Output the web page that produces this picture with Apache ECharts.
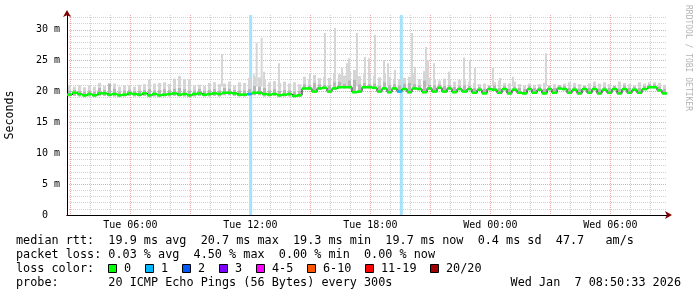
<!DOCTYPE html>
<html><head><meta charset="utf-8">
<script src="https://cdn.jsdelivr.net/npm/echarts@6/dist/echarts.min.js"></script>
<style>html,body{margin:0;padding:0;background:#fff}#c{width:697px;height:297px}</style>
</head><body><div id="c"></div>
<script>
// time is in minutes after Tue 00:00; slots of 15 minutes starting at 02:50
const SLOT_START = 170;
const SLOT_MINUTES = 15;
const X_MIN = 170, X_MAX = 1970;
const Y_MAX = 32.4;

const median = [
19.5,19.8,19.6,19.4,19.6,19.4,19.7,19.7,19.5,19.6,19.4,19.5,19.7,19.6,19.5,19.7,19.4,19.6,19.4,19.5,
19.6,19.7,19.5,19.6,19.4,19.6,19.7,19.5,19.6,19.7,19.6,19.8,19.8,19.7,
19.5,19.5,19.6,19.8,19.8,19.6,19.5,19.6,19.4,19.5,19.6,19.3,19.4,20.5,
20.5,20.0,20.5,20.6,20.0,20.5,20.7,20.7,20.7,19.9,20.0,20.7,20.7,20.6,
20.0,20.5,19.9,20.5,20.0,20.4,19.9,20.5,20.4,19.9,20.5,20.0,20.6,20.0,20.5,19.9,20.4,20.0,
20.4,19.8,20.3,19.7,20.4,20.3,19.8,20.4,19.7,20.3,19.8,19.7,20.4,19.8,20.3,19.7,20.4,19.8,20.5,20.4,
19.8,20.3,19.7,20.4,19.8,20.4,19.7,20.3,19.8,20.4,19.7,20.4,19.8,20.3,19.8,20.4,20.7,20.7,20.2,19.7
];
const smokeLo = [
19.2,19.3,19.2,19.1,19.2,19.1,19.3,19.3,19.2,19.2,19.1,19.2,19.3,19.2,19.2,19.3,19.1,19.2,19.1,19.2,
19.2,19.3,19.2,19.2,19.1,19.2,19.3,19.2,19.2,19.3,19.2,19.4,19.4,19.3,
19.2,19.2,19.3,19.4,19.4,19.2,19.2,19.3,19.1,19.2,19.2,19.0,19.1,20.3,
20.3,19.8,20.3,20.4,19.8,20.3,20.5,20.5,20.5,19.7,19.8,20.5,20.5,20.4,
19.8,20.3,19.7,20.3,19.8,20.2,19.7,20.3,20.2,19.7,20.3,19.8,20.4,19.8,20.3,19.7,20.2,19.8,
20.2,19.6,20.1,19.5,20.2,20.1,19.6,20.2,19.5,20.1,19.6,19.5,20.2,19.6,20.1,19.5,20.2,19.6,20.3,20.2,
19.6,20.1,19.5,20.2,19.6,20.2,19.5,20.1,19.6,20.2,19.5,20.2,19.6,20.1,19.6,20.2,20.5,20.5,20.0,19.5
];
const smokeMid = [
20.2,20.3,20.1,20.0,20.2,20.0,20.6,20.3,21.3,20.5,20.0,20.2,20.3,20.1,20.2,20.3,20.4,20.2,20.3,20.4,
20.3,20.5,20.6,20.4,20.2,20.2,20.4,20.1,20.3,20.4,20.2,20.6,20.5,20.3,
20.2,20.2,20.4,20.9,20.8,20.6,20.2,20.4,20.1,20.3,20.2,20.0,20.1,21.2,
21.0,21.4,21.2,21.1,21.0,21.5,21.6,21.3,21.8,21.9,21.2,21.4,21.2,21.3,
20.9,21.5,21.0,21.2,21.0,21.3,21.4,21.2,21.0,21.8,21.1,21.0,21.2,20.9,21.0,20.8,20.9,21.0,
20.9,20.6,20.8,20.5,20.9,21.0,20.6,20.9,20.5,20.8,20.6,20.4,20.9,20.6,20.8,20.5,20.9,20.6,21.0,20.9,
20.6,20.8,20.5,20.9,20.6,20.9,20.5,20.8,20.6,20.9,20.5,21.0,20.6,20.8,20.6,20.9,21.2,21.2,20.8,20.5
];
const smokeHi = [
21.0,20.8,21.0,20.7,21.0,20.8,21.4,20.9,21.3,21.3,20.8,21.0,21.0,20.8,21.1,21.2,21.9,21.3,21.4,21.5,
21.2,22.1,22.5,22.0,22.0,21.0,21.1,20.9,21.4,21.5,21.2,21.3,21.6,21.0,
21.5,21.4,22.2,22.4,22.3,22.0,21.5,21.7,21.4,21.6,21.3,21.5,21.2,22.4,
22.0,22.7,22.2,22.4,22.2,23.0,22.8,22.6,23.2,23.5,22.5,23.0,22.8,22.6,
22.3,22.9,22.4,22.1,22.0,22.2,22.4,22.8,22.0,23.3,22.2,22.0,21.8,22.1,21.9,21.6,21.9,21.8,
21.6,21.4,21.2,21.3,21.1,21.5,21.8,21.4,21.3,21.6,21.2,21.0,21.3,21.1,21.2,21.4,21.0,21.2,21.1,21.3,
21.5,21.4,21.2,21.0,21.3,21.6,21.3,21.5,21.2,21.0,21.6,21.4,21.2,21.0,21.5,21.3,21.5,21.5,21.4,21.1
];
// narrow tall smoke spikes: [minute, max rtt ms]
const spikes = [
[635,26.1],[731,22.8],[739,27.9],[754,28.7],[761,23.2],[806,24.6],[899,23.0],[944,29.5],[974,30.3],
[995,23.8],[1010,24.6],[1016,25.4],[1040,29.5],[1064,25.6],[1076,25.4],[1094,29.2],[1121,25.1],
[1133,24.6],[1154,23.5],[1205,29.5],[1214,24.0],[1247,27.2],[1253,25.0],[1271,24.6],[1316,23.2],
[1361,25.5],[1379,25.1],[1394,23.8],[1448,23.8],[1469,22.2],[1508,22.4],[1607,26.2]
];
// packet loss events: [minute, lost pings of 20]
const lossEvents = [[721,1],[1173,1]];

const xTickMinutes = [360,720,1080,1440,1800];
const xTickLabels = ['Tue 06:00','Tue 12:00','Tue 18:00','Wed 00:00','Wed 06:00'];
const yTickValues = [0,5,10,15,20,25,30];
const yTickLabels = ['0  ','5 m','10 m','15 m','20 m','25 m','30 m'];

const lossColors = ['#00ff00','#00b8ff','#0059ff','#7e00ff','#ff00ff','#ff5500','#ff0000','#a10000'];
const lossLabels = ['0','1','2','3','4-5','6-10','11-19','20/20'];

const statLine1 = 'median rtt:  19.9 ms avg  20.7 ms max  19.3 ms min  19.7 ms now  0.4 ms sd  47.7   am/s';
const statLine2 = 'packet loss: 0.03 % avg  4.50 % max  0.00 % min  0.00 % now';
const lossTitle = 'loss color:';
const probeLine = 'probe:       20 ICMP Echo Pings (56 Bytes) every 300s';
const stampText = 'Wed Jan  7 08:50:33 2026';
const watermark = 'RRDTOOL / TOBI OETIKER';

// ---- styles ----
const MONO = '"DejaVu Sans Mono", monospace';
const MINOR = '#d2d2d2';
const MAJOR = '#eba8a8';
const LOSS_BAR = '#a6e3fb';
const LEG_FONT = '11.8px ' + MONO;

function lossIndex(n){ if(n<=0)return 0; if(n===1)return 1; if(n===2)return 2; if(n===3)return 3; if(n<=5)return 4; if(n<=10)return 5; if(n<=19)return 6; return 7; }
function slotTime(i){ return SLOT_START + SLOT_MINUTES*(i+0.5); }
function slotLoss(i){
  let n=0; const a=SLOT_START+SLOT_MINUTES*i, b=a+SLOT_MINUTES;
  lossEvents.forEach(e=>{ if(e[0]>=a && e[0]<b) n=Math.max(n,e[1]); });
  return n;
}

const xGridColors = [];
for (let k=0;k<18;k++){ const m=X_MIN+10*k; xGridColors.push(m%180===0?MAJOR:(m%60===0?MINOR:'rgba(0,0,0,0)')); }
const yMinorColors = ['rgba(0,0,0,0)',MINOR,MINOR,MINOR,MINOR];

const smokeData = median.map((m,i)=>[slotTime(i), smokeLo[i], smokeMid[i], smokeHi[i]]);
const medData = median.map((m,i)=>[slotTime(i), m, slotLoss(i)]);

const chart = echarts.init(document.getElementById('c'), null, {renderer:'canvas'});

const graphics = [];
const T1 = 241, LH = 14;
function txt(s,x,y,align){ graphics.push({type:'text', x:x, y:y, silent:true, style:{text:s, font:LEG_FONT, fill:'#000', align:align||'left', verticalAlign:'middle'}}); }
txt(statLine1,16,T1);
txt(statLine2,16,T1+LH);
txt(lossTitle,16,T1+2*LH);
txt(probeLine,16,T1+3*LH);
txt(stampText,681,T1+3*LH,'right');
let bx = 108;
lossLabels.forEach((lab,i)=>{
  graphics.push({type:'rect', x:bx+0.5, y:T1+2*LH-4.5, silent:true, shape:{x:0,y:0,width:8,height:8}, style:{fill:lossColors[i], stroke:'#000', lineWidth:1}});
  txt(lab, bx+16, T1+2*LH);
  bx += 16 + lab.length*7 + 14;
});
graphics.push({type:'text', x:688, y:5, rotation:-Math.PI/2, silent:true, style:{text:watermark, font:'8px '+MONO, fill:'#b4b4b4', align:'left', verticalAlign:'middle'}});

const option = {
  animation:false,
  backgroundColor:'#ffffff',
  grid:{left:67, top:15, width:600, height:200, containLabel:false, outerBoundsMode:'none'},
  xAxis:[
    {type:'value', min:X_MIN, max:X_MAX, interval:10, position:'bottom',
     axisLine:{show:true, onZero:false, lineStyle:{color:'#000', width:1}},
     axisTick:{show:false},
     axisLabel:{show:true, margin:5, fontFamily:MONO, fontSize:10, color:'#000',
       formatter:function(v){ const k=xTickMinutes.indexOf(Math.round(v)); return k>=0?xTickLabels[k]:''; }},
     splitLine:{show:true, showMinLine:true, showMaxLine:true, lineStyle:{color:xGridColors, width:1, type:[1,1]}}},
    {type:'value', min:X_MIN, max:X_MAX, position:'bottom',
     axisLine:{show:true, onZero:false, symbol:['none','arrow'], symbolSize:[6,7], symbolOffset:[0,5],
       lineStyle:{color:'#7f0000', width:1, type:[0,1000]}},
     axisTick:{show:false}, axisLabel:{show:false}, splitLine:{show:false}}
  ],
  yAxis:[
    {type:'value', min:0, max:Y_MAX, interval:5, position:'left',
     name:'Seconds', nameLocation:'middle', nameGap:51, nameRotate:90,
     nameTextStyle:{fontFamily:MONO, fontSize:11.6, color:'#000'},
     axisLine:{show:true, onZero:false, lineStyle:{color:'#000', width:1}},
     axisTick:{show:false},
     axisLabel:{margin:7, fontFamily:MONO, fontSize:10, color:'#000',
       formatter:function(v){ const k=yTickValues.indexOf(Math.round(v*100)/100); return k>=0?yTickLabels[k]:''; }},
     splitLine:{show:true, showMinLine:false, showMaxLine:false, lineStyle:{color:MAJOR, width:1, type:[1,1]}}},
    {type:'value', min:0, max:Y_MAX, interval:1, position:'left',
     axisLine:{show:true, onZero:false, symbol:['none','arrow'], symbolSize:[6,7], symbolOffset:[0,5],
       lineStyle:{color:'#7f0000', width:1, type:[0,1000]}},
     axisTick:{show:false}, axisLabel:{show:false},
     splitLine:{show:true, showMinLine:true, showMaxLine:false, lineStyle:{color:yMinorColors, width:1, type:[1,1]}}}
  ],
  series:[
    {type:'custom', name:'loss', xAxisIndex:0, yAxisIndex:0, z:2, silent:true, clip:true,
     data:lossEvents,
     renderItem:function(p,api){
       const t=api.value(0); const a=api.coord([t,0]); const b=api.coord([t,Y_MAX]);
       return {type:'rect', shape:{x:a[0]-1.5, y:b[1], width:3, height:a[1]-b[1]}, style:{fill:LOSS_BAR}};
     }},
    {type:'custom', name:'spikes', xAxisIndex:0, yAxisIndex:0, z:3, silent:true, clip:true,
     data:spikes,
     renderItem:function(p,api){
       const t=api.value(0); const a=api.coord([t,20.8]); const b=api.coord([t,api.value(1)]);
       return {type:'rect', shape:{x:a[0]-1, y:b[1], width:2, height:a[1]-b[1]}, style:{fill:'#d6d6d6'}};
     }},
    {type:'custom', name:'smoke', xAxisIndex:0, yAxisIndex:0, z:4, silent:true, clip:true,
     data:smokeData,
     renderItem:function(p,api){
       const t=api.value(0);
       const lo=api.coord([t,api.value(1)]), mid=api.coord([t,api.value(2)]), hi=api.coord([t,api.value(3)]);
       const w=3;
       return {type:'group', children:[
         {type:'rect', shape:{x:lo[0]-w/2, y:hi[1], width:w, height:Math.max(0,mid[1]-hi[1])}, style:{fill:'#d5d5d5'}},
         {type:'rect', shape:{x:lo[0]-w/2, y:mid[1], width:w, height:Math.max(0,lo[1]-mid[1])}, style:{fill:'#b6b6b6'}}
       ]};
     }},
    {type:'line', name:'median edge', xAxisIndex:0, yAxisIndex:0, z:5, silent:true,
     data:medData.map(d=>[d[0],d[1]]), step:'middle', showSymbol:false, symbol:'none',
     lineStyle:{color:'#000', width:1}},
    {type:'custom', name:'median', xAxisIndex:0, yAxisIndex:0, z:6, silent:true, clip:true,
     data:medData,
     renderItem:function(p,api){
       const t=api.value(0), m=api.value(1), n=api.value(2);
       const a=api.coord([t-SLOT_MINUTES/2,m]), b=api.coord([t+SLOT_MINUTES/2,m]);
       return {type:'rect', shape:{x:a[0], y:a[1]-1.25, width:b[0]-a[0], height:2.5}, style:{fill:lossColors[lossIndex(n)]}};
     }}
  ],
  graphic:graphics
};
chart.setOption(option);
</script></body></html>
